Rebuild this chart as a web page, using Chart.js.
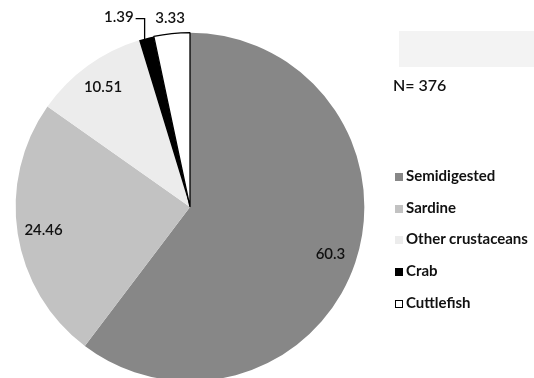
<!DOCTYPE html>
<html>
<head>
<meta charset="utf-8">
<script src="https://cdn.jsdelivr.net/npm/chart.js@4.4.1/dist/chart.umd.min.js"></script>
<style>
  html, body { margin: 0; padding: 0; background: #fff; overflow: hidden; }
  #wrap { position: relative; width: 534px; height: 378px; overflow: hidden; }
  #wrap canvas { position: absolute; left: 0; top: 0; }
  #box { position: absolute; left: 399px; top: 31px; width: 135px; height: 36px; background: #f3f3f3; }
  #ntext { position: absolute; left: 393px; top: 75px; font: 600 16px Lato, sans-serif; color: #111; }
  #legend { position: absolute; left: 395px; top: 166px; font: bold 15px Lato, sans-serif; color: #111; }
  #legend .row { height: 31.7px; display: flex; align-items: flex-start; white-space: nowrap; }
  #legend .sw { width: 8px; height: 8px; margin-top: 7px; margin-right: 3px; box-sizing: border-box; }
</style>
</head>
<body>
<div id="wrap">
  <canvas id="c" width="534" height="400" style="width:534px;height:400px"></canvas>
  <div id="box"></div>
  <div id="ntext"></div>
  <div id="legend"></div>
</div>
<script>
// Diet composition (%), N = 376
const categories = ['Semidigested', 'Sardine', 'Other crustaceans', 'Crab', 'Cuttlefish'];
const percentages = [60.3, 24.46, 10.51, 1.39, 3.33];
const sampleSize = 376;
const sliceColors = ['#878787', '#c2c2c2', '#ececec', '#000000', '#ffffff'];

document.getElementById('ntext').textContent = 'N= ' + sampleSize;

// legend rows
const legend = document.getElementById('legend');
categories.forEach((name, i) => {
  const row = document.createElement('div');
  row.className = 'row';
  const sw = document.createElement('div');
  sw.className = 'sw';
  sw.style.background = sliceColors[i];
  if (sliceColors[i] === '#ffffff') sw.style.border = '1px solid #000';
  const t = document.createElement('span');
  t.textContent = name;
  row.appendChild(sw);
  row.appendChild(t);
  legend.appendChild(row);
});

// value labels: inside for large slices, outside for thin ones (with a leader for the thinnest)
const valueLabels = {
  id: 'valueLabels',
  afterDatasetsDraw(chart) {
    const ctx = chart.ctx;
    const meta = chart.getDatasetMeta(0);
    const values = chart.data.datasets[0].data;
    ctx.save();
    ctx.font = '600 15px Lato, sans-serif';
    ctx.fillStyle = '#111';
    ctx.textBaseline = 'middle';
    meta.data.forEach((arc, i) => {
      const p = arc.getProps(['x', 'y', 'startAngle', 'endAngle', 'outerRadius'], true);
      const mid = (p.startAngle + p.endAngle) / 2;
      const v = values[i];
      const txt = String(v);
      if (v >= 5) {
        const r = p.outerRadius * 0.85;
        ctx.textAlign = 'center';
        ctx.fillText(txt, p.x + Math.cos(mid) * r, p.y + Math.sin(mid) * r);
      } else if (v >= 2) {
        const r = p.outerRadius + 16;
        ctx.textAlign = 'center';
        ctx.fillText(txt, p.x + Math.cos(mid) * r, p.y + Math.sin(mid) * r);
      } else {
        // leader: up from the slice edge, then left to the label
        const ex = p.x + Math.cos(mid) * (p.outerRadius - 1) - 2;
        const ey = p.y + Math.sin(mid) * (p.outerRadius - 1);
        const ly = p.y - p.outerRadius - 14;
        ctx.strokeStyle = '#000';
        ctx.lineWidth = 1.3;
        ctx.beginPath();
        ctx.moveTo(ex, ey);
        ctx.lineTo(ex, ly);
        ctx.lineTo(ex - 9, ly);
        ctx.stroke();
        ctx.textAlign = 'right';
        ctx.fillText(txt, ex - 11, ly - 1.5);
      }
    });
    ctx.restore();
  }
};

new Chart(document.getElementById('c'), {
  type: 'pie',
  data: {
    labels: categories,
    datasets: [{
      data: percentages,
      backgroundColor: sliceColors,
      borderColor: ['#878787', '#c2c2c2', '#ececec', '#000000', '#000000'],
      borderWidth: [0, 0, 0, 0, 1.3]
    }]
  },
  options: {
    responsive: false,
    animation: false,
    layout: { padding: { left: 15, top: 32, right: 169, bottom: 18 } },
    plugins: {
      legend: { display: false },
      tooltip: { enabled: false }
    }
  },
  plugins: [valueLabels]
});
</script>
</body>
</html>
